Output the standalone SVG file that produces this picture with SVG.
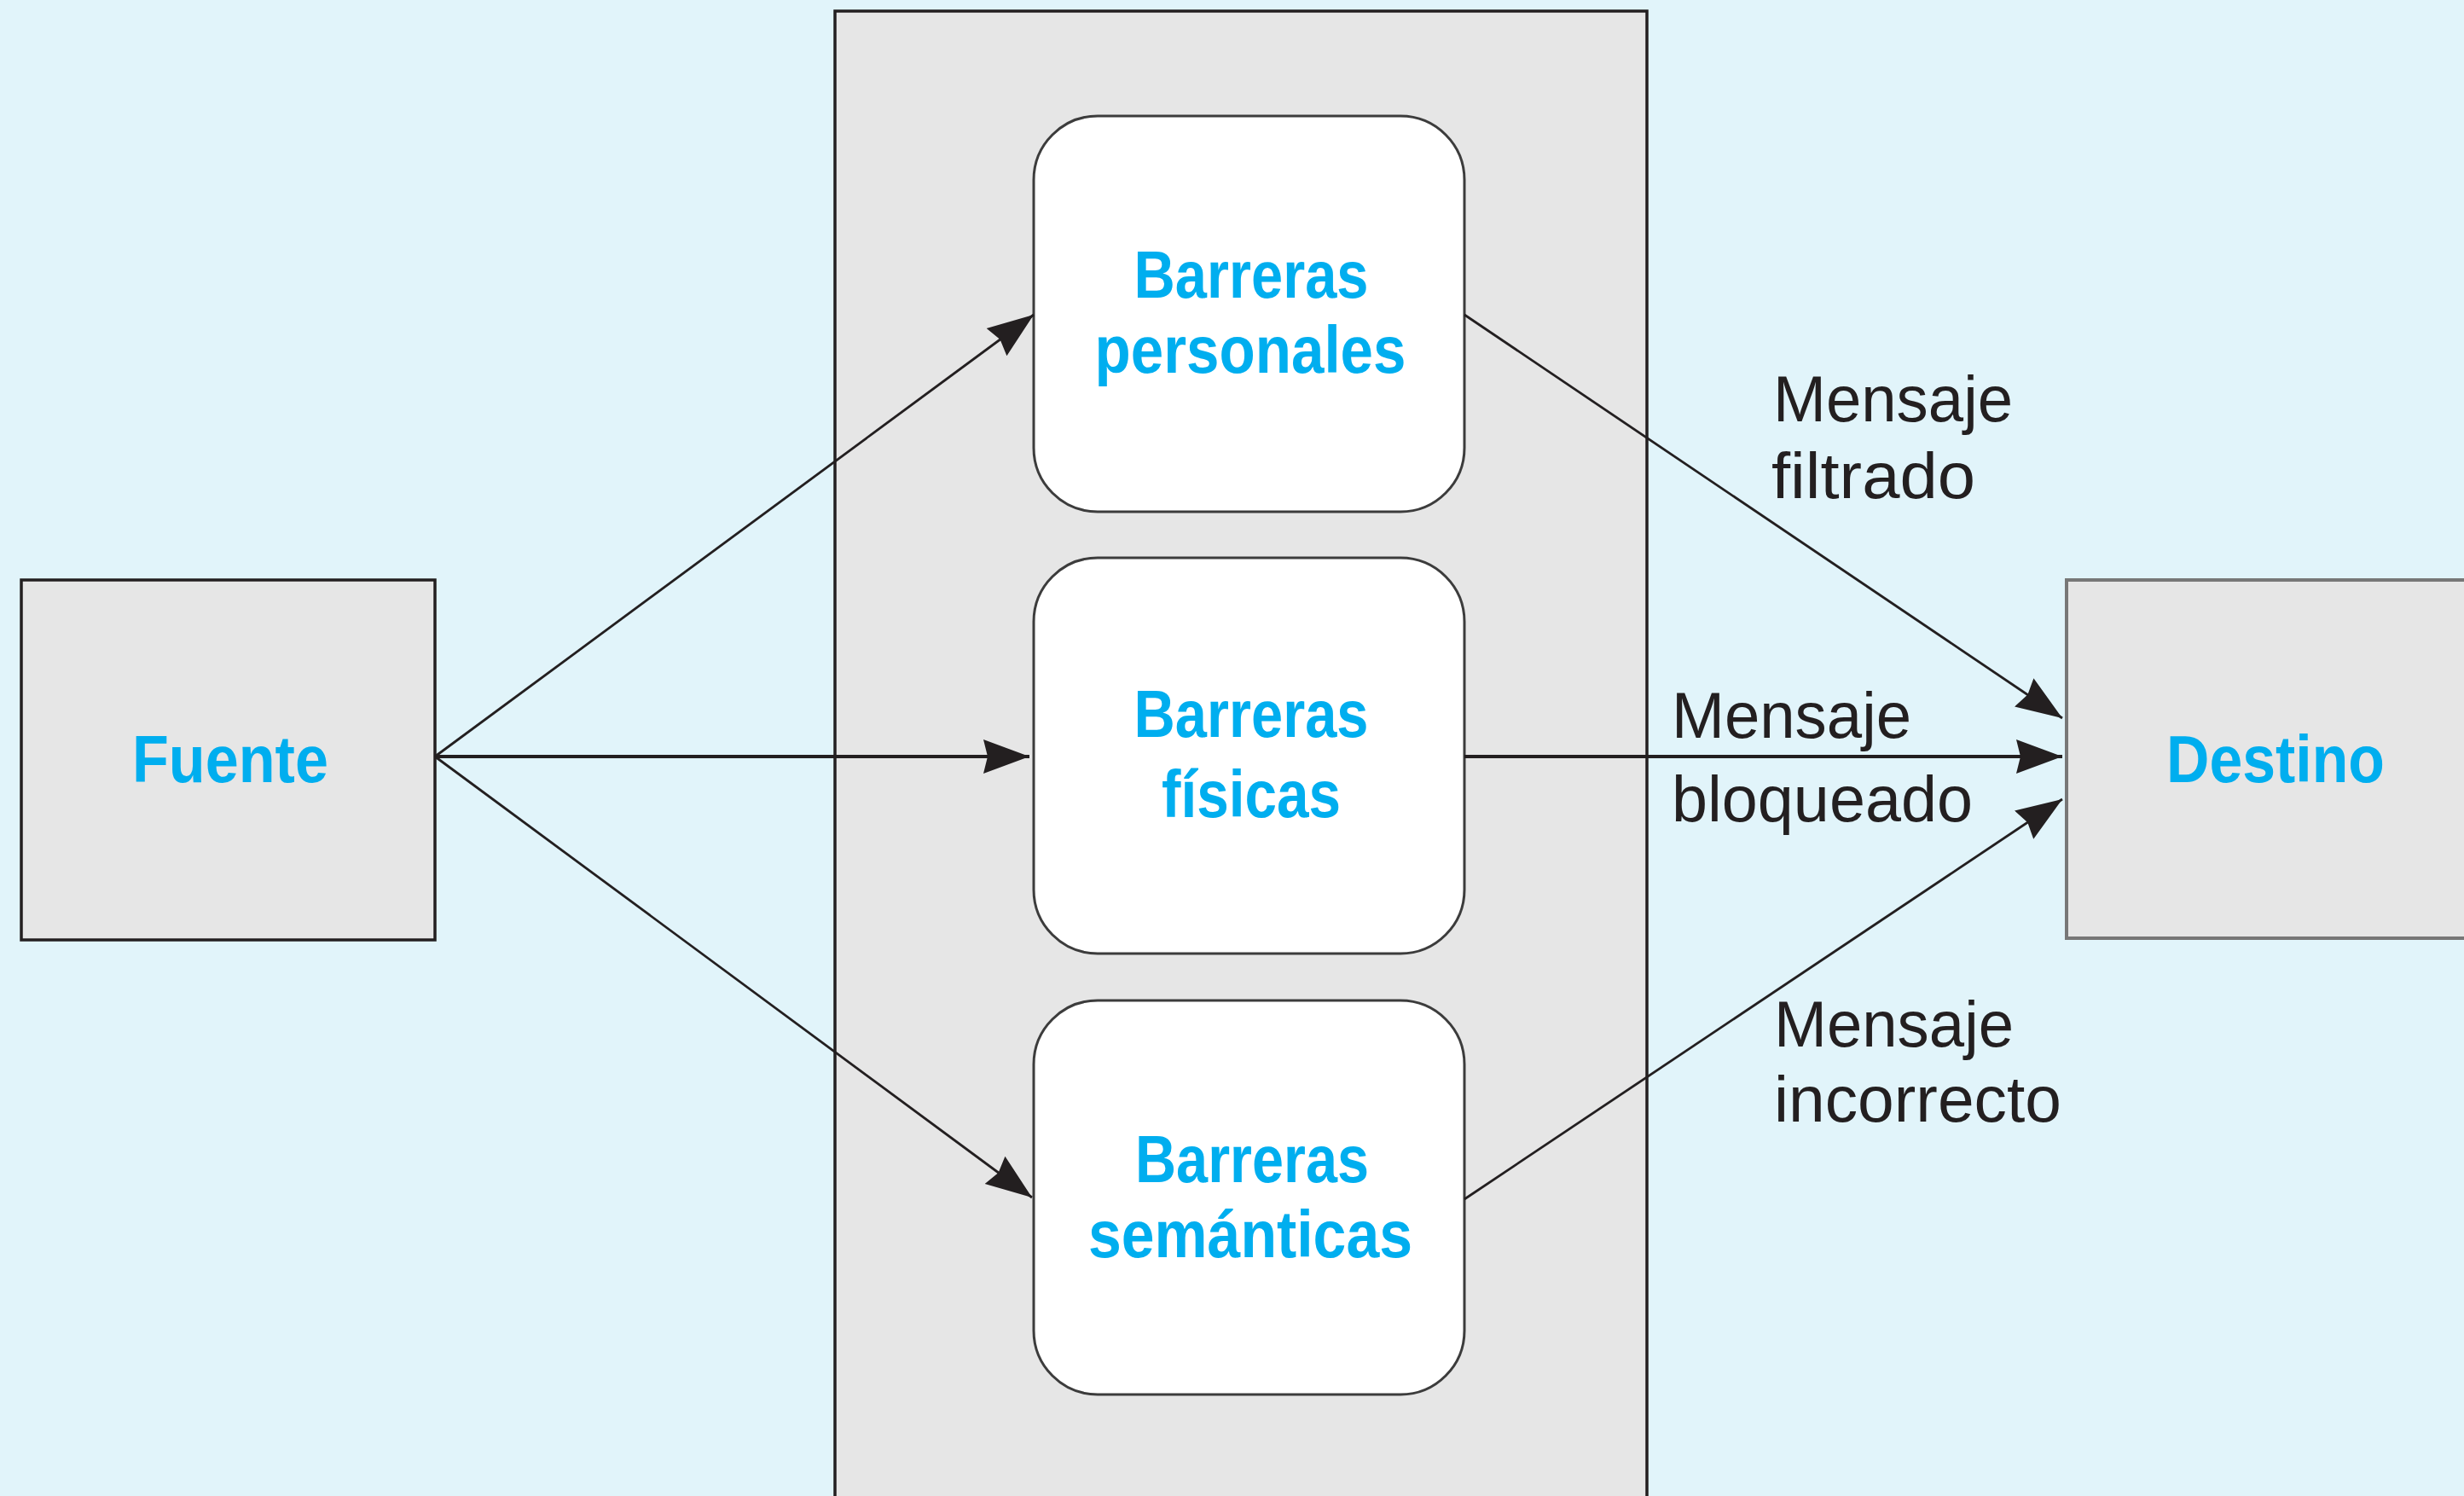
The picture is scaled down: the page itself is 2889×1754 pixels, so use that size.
<svg xmlns="http://www.w3.org/2000/svg" width="2889" height="1754" viewBox="0 0 2889 1754">
  <style>
    .box { fill: #e6e6e6; }
    .rbox { fill: #ffffff; stroke: #3c3c3c; stroke-width: 3; }
    .lbl { font-family: "Liberation Sans Narrow", "Liberation Sans", Arial, sans-serif; font-weight: bold; font-size: 78px; fill: #00aeef; text-anchor: middle; }
    .msg { font-family: "Liberation Sans Narrow", "Liberation Sans", Arial, sans-serif; font-size: 76px; fill: #231f20; }
    .conn { stroke: #231f20; fill: none; stroke-width: 2.8; }
    .conn.h { stroke-width: 4; }
  </style>
  <defs>
    <marker id="arrow" markerUnits="userSpaceOnUse" markerWidth="54" markerHeight="42" viewBox="0 0 54 42" refX="54" refY="21" orient="auto">
      <path d="M54,21 L0,1 L5,21 L0,41 Z" fill="#231f20"/>
    </marker>
  </defs>

  <rect x="0" y="0" width="2889" height="1754" fill="#e1f4fa"/>

  <g id="panel">
    <rect x="979" y="13" width="952" height="1800" class="box" stroke="#231f20" stroke-width="3.5"/>
  </g>

  <g id="fuente">
    <rect x="25" y="680" width="485" height="422" class="box" stroke="#231f20" stroke-width="3.5"/>
    <text x="270" y="917" class="lbl" textLength="230" lengthAdjust="spacingAndGlyphs">Fuente</text>
  </g>

  <g id="destino">
    <rect x="2423" y="680" width="520" height="420" class="box" stroke="#777777" stroke-width="4"/>
    <text x="2668" y="917" class="lbl" textLength="256" lengthAdjust="spacingAndGlyphs">Destino</text>
  </g>

  <g id="barreras-personales">
    <rect x="1212" y="136" width="505" height="464" rx="75" ry="75" class="rbox"/>
    <text x="1467" y="349" class="lbl" textLength="275" lengthAdjust="spacingAndGlyphs">Barreras</text>
    <text x="1466" y="437" class="lbl" textLength="365" lengthAdjust="spacingAndGlyphs">personales</text>
  </g>

  <g id="barreras-fisicas">
    <rect x="1212" y="654" width="505" height="464" rx="75" ry="75" class="rbox"/>
    <text x="1467" y="864" class="lbl" textLength="275" lengthAdjust="spacingAndGlyphs">Barreras</text>
    <text x="1467" y="958" class="lbl" textLength="210" lengthAdjust="spacingAndGlyphs">físicas</text>
  </g>

  <g id="barreras-semanticas">
    <rect x="1212" y="1173" width="505" height="462" rx="75" ry="75" class="rbox"/>
    <text x="1468" y="1386" class="lbl" textLength="274" lengthAdjust="spacingAndGlyphs">Barreras</text>
    <text x="1466" y="1474" class="lbl" textLength="380" lengthAdjust="spacingAndGlyphs">semánticas</text>
  </g>

  <g id="connectors">
    <line x1="510" y1="887" x2="1212" y2="369" class="conn" marker-end="url(#arrow)"/>
    <line x1="510" y1="887" x2="1207" y2="887" class="conn h" marker-end="url(#arrow)"/>
    <line x1="510" y1="887" x2="1210" y2="1404" class="conn" marker-end="url(#arrow)"/>
    <line x1="1717" y1="369" x2="2418" y2="842" class="conn" marker-end="url(#arrow)"/>
    <line x1="1717" y1="887" x2="2418" y2="887" class="conn h" marker-end="url(#arrow)"/>
    <line x1="1717" y1="1406" x2="2418" y2="937" class="conn" marker-end="url(#arrow)"/>
  </g>

  <g id="labels">
    <text x="2079" y="494" class="msg" textLength="281" lengthAdjust="spacingAndGlyphs">Mensaje</text>
    <text x="2077" y="584" class="msg" textLength="239" lengthAdjust="spacingAndGlyphs">filtrado</text>
    <text x="1960" y="865" class="msg" textLength="281" lengthAdjust="spacingAndGlyphs">Mensaje</text>
    <text x="1960" y="963" class="msg" textLength="353" lengthAdjust="spacingAndGlyphs">bloqueado</text>
    <text x="2080" y="1227" class="msg" textLength="281" lengthAdjust="spacingAndGlyphs">Mensaje</text>
    <text x="2080" y="1315" class="msg" textLength="337" lengthAdjust="spacingAndGlyphs">incorrecto</text>
  </g>
</svg>
